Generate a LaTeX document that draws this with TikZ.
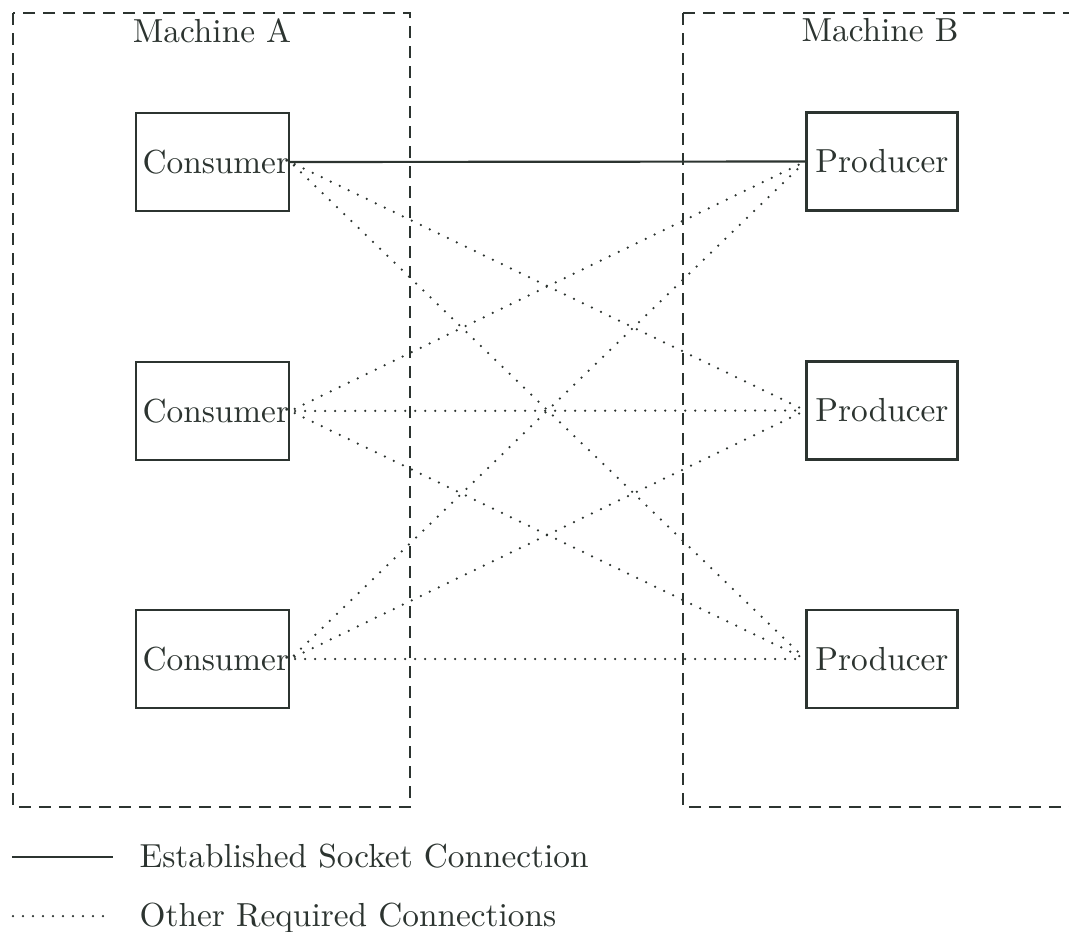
\documentclass[tikz,border=0pt]{standalone}
\usepackage{tikz}
\definecolor{ink}{RGB}{44,52,48}
\begin{document}
\begin{tikzpicture}[x=0.3pt,y=-0.3pt,
  every node/.style={font=\fontsize{10}{12}\selectfont, text=ink},
  machine/.style={draw=ink, line width=0.75pt, dash pattern=on 3.6pt off 2.4pt},
  proc/.style={draw=ink, line width=0.65pt, rectangle, inner sep=0pt,
    minimum width=45.3pt, minimum height=29.4pt},
  established/.style={draw=ink, line width=0.65pt},
  required/.style={draw=ink, line width=0.75pt, line cap=round,
    dash pattern=on 0pt off 3pt}]
\useasboundingbox (0,0) rectangle (1069,932);

% machine frames
\draw[machine] (13,13) rectangle (410,807);
\draw[machine] (683,13) -- (1069,13);
\draw[machine] (683,13) -- (683,807) -- (1069,807);
\node[anchor=base] (ma) at (212,42) {Machine A};
\node[anchor=base] (mb) at (880,41) {Machine B};

% processes
\node[proc] (c1) at (212.5,162) {\hspace{2pt}Consumer};
\node[proc] (c2) at (212.5,411) {\hspace{2pt}Consumer};
\node[proc] (c3) at (212.5,659) {\hspace{2pt}Consumer};
\node[proc] (p1) at (882,161.5) {Producer};
\node[proc] (p2) at (882,410.5) {Producer};
\node[proc] (p3) at (882,659) {Producer};

% connections
\draw[established] (c1.east) -- (p1.west);
\foreach \c/\p in {c1/p2,c1/p3,c2/p1,c2/p2,c2/p3,c3/p1,c3/p2,c3/p3}
  \draw[required, shorten <=1.5pt, shorten >=1pt] (\c.east) -- (\p.west);

% legend
\coordinate (l1a) at (12,857);
\coordinate (l1b) at (113,857);
\coordinate (l2a) at (13,916);
\coordinate (l2b) at (112,916);
\draw[established] (l1a) -- (l1b);
\draw[required] (l2a) -- (l2b);
\node[anchor=base west, inner sep=0pt] (t1) at (139,867) {Established Socket Connection};
\node[anchor=base west, inner sep=0pt] (t2) at (139,926) {Other Required Connections};
\end{tikzpicture}
\end{document}
